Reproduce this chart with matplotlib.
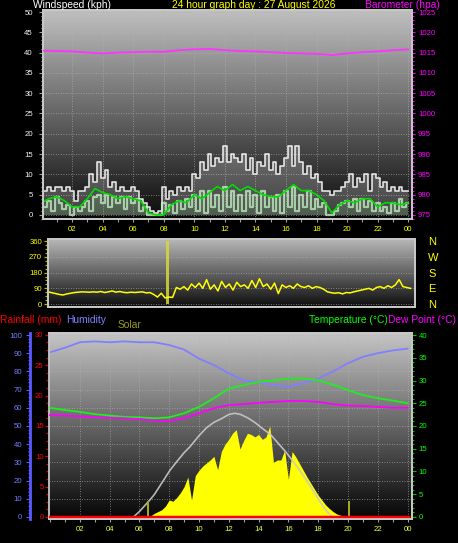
import numpy as np
import matplotlib
matplotlib.use('Agg')
import matplotlib.pyplot as plt
from matplotlib.ticker import MultipleLocator

plt.rcParams['font.family'] = ['Liberation Sans', 'DejaVu Sans']

# ---------------- data ----------------
t15 = np.arange(97) * 0.25          # quarter-hour sample times
t30 = np.arange(49) * 0.5           # half-hour sample times
t_hour = np.arange(25)              # hourly sample times

hour_ticks = [2, 4, 6, 8, 10, 12, 14, 16, 18, 20, 22, 24]
hour_labels = ['02', '04', '06', '08', '10', '12', '14', '16', '18', '20', '22', '00']

wind_gust = [5.8, 5.8, 7, 5.8, 7, 7, 5.8, 7, 5.8, 3.5, 5.8, 5.8, 7, 10, 8, 13,
             9, 11, 7, 8, 5.8, 7, 5.8, 5.8, 7, 5.8, 4, 3, 2, 1, 0.5, 1,
             7, 4, 6, 5, 7, 5.8, 7, 6, 10, 9, 13, 11, 15, 12, 14, 13,
             17, 13, 15, 14, 13, 15, 11, 14, 10, 13, 12, 15, 11, 13, 10, 12,
             14, 17, 12, 17, 13, 10, 12, 9, 10, 8, 6, 5.8, 5, 5.8, 6, 7,
             8, 10, 7, 9, 8, 10, 6, 10, 9, 7, 8, 6, 7, 5.8, 7, 5.8, 6]
wind_speed = [3, 2, 3.5, 1, 4.5, 3, 1.5, 2.5, 0, 2, 1, 2, 3.5, 1, 4.5, 5,
              3, 5, 2, 4.5, 3, 4.5, 1.5, 4.5, 3, 4, 1, 2, 0, 0, 0, 0,
              3, 1, 2.5, 0.5, 3.5, 1.5, 4, 2, 5, 1, 6, 0.5, 6, 2, 5, 1,
              7, 2, 6, 1, 5, 1, 6, 2, 5, 0.5, 6, 2, 4.5, 1, 5, 0.5,
              6, 2, 7, 1, 5, 2, 6, 1.5, 4, 2, 3, 0, 0, 1, 2.5, 3,
              3.5, 2, 4, 1, 4, 2, 3.5, 1, 3, 1, 2, 0.5, 3, 1, 4, 2, 3]
wind_avg = [3, 4, 4.5, 3.5, 2, 2, 4, 6.5, 5.5, 5, 4, 4.5, 4, 3.5, 0.5, 0, 0,
            2.5, 3.5, 3, 5, 4, 5.5, 7, 6, 7.5, 6, 7, 6, 5, 4.5, 4.5, 6, 7.5,
            6, 6, 5, 3.5, 0.5, 2.5, 3.5, 3, 4, 4, 2, 3, 3, 2.5, 3]
barometer = [1015.5, 1015.4, 1015.3, 1015.0, 1014.8, 1015.0, 1015.1, 1015.2,
             1015.2, 1015.6, 1015.8, 1015.9, 1015.6, 1015.4, 1015.3, 1015.1,
             1014.9, 1014.8, 1014.7, 1014.4, 1014.8, 1015.1, 1015.3, 1015.6,
             1015.8]

wind_dir = [70, 65, 60, 55, 52, 58, 62, 66, 68, 70, 69, 68, 70, 68, 72, 66,
            70, 75, 68, 72, 67, 65, 68, 66, 68, 70, 64, 66, 55, 40, 62, 35,
            40, 38, 95, 85, 100, 80, 115, 95, 120, 90, 140, 85, 110, 75, 130, 95,
            115, 80, 125, 100, 110, 90, 135, 95, 145, 100, 115, 85, 120, 60, 110, 95,
            105, 90, 115, 100, 95, 105, 90, 100, 95, 85, 70, 65, 62, 65, 58, 66,
            64, 70, 75, 80, 85, 90, 80, 95, 100, 90, 105, 95, 110, 140, 100, 95, 90]
dir_spike_hour = [7.9]
dir_spike_value = [360]

humidity = [90.5, 93, 96, 96.5, 96, 96.5, 96, 96, 94.5, 92, 87, 83.5, 79, 75,
            74, 72.5, 71.5, 73.5, 76, 80, 84.5, 88, 90, 91.5, 92.5]
temperature = [24.0, 23.5, 23.1, 22.6, 22.3, 22.0, 21.9, 21.7, 21.9, 22.8, 24.2,
               26.1, 28.2, 29.0, 29.7, 30.0, 30.4, 30.5, 30.0, 29.1, 27.9, 26.8,
               26.1, 25.6, 25.0]
dew_point = [22.4, 22.3, 22.1, 21.9, 21.8, 21.7, 21.5, 21.2, 21.1, 21.7, 22.8,
             23.9, 24.6, 24.8, 25.1, 25.3, 25.5, 25.5, 25.3, 24.8, 24.5, 24.4,
             24.2, 24.0, 24.0]
rainfall = [0.0, 0.0, 0.0, 0.0, 0.0, 0.0, 0.0, 0.0, 0.0, 0.0, 0.0, 0.0, 0.0,
            0.0, 0.0, 0.0, 0.0, 0.0, 0.0, 0.0, 0.0, 0.0, 0.0, 0.0, 0.0]
solar = [0, 0, 0, 0, 0, 0, 0, 0, 0, 0, 0, 0, 0, 0, 0, 0,
         0, 0, 0, 0, 0, 0, 0, 0, 0, 0, 0, 10, 30, 45, 60, 90,
         140, 130, 160, 200, 250, 330, 140, 340, 385, 420, 445, 470, 500, 390, 540, 600,
         640, 690, 720, 560, 630, 690, 680, 660, 680, 640, 660, 750, 450, 470, 470, 550,
         310, 540, 495, 440, 385, 330, 280, 230, 180, 140, 100, 70, 45, 25, 15, 5,
         0, 0, 0, 0, 0, 0, 0, 0, 0, 0, 0, 0, 0, 0, 0, 0, 0]
solar_max_hours = [5.6, 6.0, 6.7, 7.0, 7.5, 8.05, 8.5, 9.0, 9.4, 10.0, 10.5, 11.0,
                   11.5, 12.0, 12.4, 12.8, 13.3, 13.8, 14.2, 14.8, 15.3, 15.8,
                   16.4, 16.9, 17.5, 18.0, 18.4, 18.7, 19.0]
solar_max = [0, 45, 140, 185, 280, 385, 455, 530, 580, 670, 735, 780, 810, 845,
             855, 845, 815, 775, 735, 680, 610, 540, 445, 360, 250, 150, 75, 30, 0]
sun_event_hours = [6.6, 20.1]
sun_event_height = [135, 135]

# ---------------- layout helpers ----------------
W, H = 458, 543
fig = plt.figure(figsize=(W / 100, H / 100), dpi=100, facecolor='black')
PT = 0.72  # points per pixel


def rect(x0, y0, x1, y1):
    return [x0 / W, 1 - y1 / H, (x1 - x0) / W, (y1 - y0) / H]


def bg(ax, top, bottom):
    grad = np.linspace(top, bottom, 256).reshape(-1, 1)
    ax.imshow(grad, cmap='gray', vmin=0, vmax=1, aspect='auto',
              extent=(0, 1, 0, 1), transform=ax.transAxes, zorder=0,
              interpolation='bilinear')


def frame(ax):
    ax.set_facecolor('none')
    for s in ax.spines.values():
        s.set_color('#c8c8c8')
        s.set_linewidth(1.3)


GRID = dict(color='#b4b4b4', lw=0.6, ls=(0, (1, 2)), alpha=0.8)
TICKFS = 5.6

# ---------------- panel 1: wind + barometer ----------------
ax1 = fig.add_axes(rect(43, 10, 412, 219))
frame(ax1)
bg(ax1, 0.75, 0.04)
ax1.fill_between(t15, wind_speed, wind_gust, step='mid', color='white', alpha=0.22, lw=0, zorder=1.5)
ax1.step(t15, wind_gust, where='mid', color='white', lw=1.2, alpha=0.85, zorder=2)
ax1.fill_between(t15, 0, wind_speed, step='mid', color='#c8f5c8', alpha=0.35, lw=0, zorder=2.5)
ax1.step(t15, wind_speed, where='mid', color='#c8f5c8', lw=1.6, alpha=0.75, zorder=3)
ax1.plot(t30, wind_avg, color='#00dd00', lw=1.2, zorder=4)
ax1.set_xlim(0.1, 24.25)
ax1.set_ylim(-1, 50.5)
ax1.set_yticks(np.arange(0, 51, 5))
ax1.yaxis.set_minor_locator(MultipleLocator(1))
ax1.tick_params(axis='y', which='both', direction='out', colors='#a0a0a0',
                labelcolor='#eef2ff', labelsize=TICKFS, length=4 * PT, width=0.8, pad=6 * PT)
ax1.tick_params(axis='y', which='minor', length=2.5 * PT)
ax1.set_xticks(hour_ticks)
ax1.set_xticklabels(hour_labels)
ax1.xaxis.set_minor_locator(MultipleLocator(1))
ax1.tick_params(axis='x', which='both', direction='out', colors='#a0a0a0',
                labelcolor='#ffff00', labelsize=TICKFS, length=3 * PT, width=0.8, pad=4 * PT)
ax1.set_axisbelow(True)
ax1.grid(True, which='major', **GRID)

ax1b = ax1.twinx()
frame(ax1b)
ax1b.plot(t_hour, barometer, color='#ff33ff', lw=1.3, zorder=5)
ax1b.set_ylim(974, 1025.5)
ax1b.set_yticks(np.arange(975, 1026, 5))
ax1b.yaxis.set_minor_locator(MultipleLocator(1))
ax1b.tick_params(axis='y', which='both', direction='out', colors='#ff00ff',
                 labelcolor='#ff00ff', labelsize=TICKFS, length=3 * PT, width=0.8, pad=3 * PT)
ax1b.tick_params(axis='y', which='minor', length=2 * PT)

# ---------------- panel 2: wind direction ----------------
ax2 = fig.add_axes(rect(48, 239, 415, 307))
frame(ax2)
bg(ax2, 0.72, 0.05)
ax2.bar(dir_spike_hour, dir_spike_value, width=0.22, color='#d8d838', alpha=0.85, zorder=2)
ax2.plot(t15, wind_dir, color='#ffff00', lw=1.1, zorder=3)
ax2.set_xlim(0.0, 24.3)
ax2.set_ylim(-17, 373)
ax2.set_yticks([0, 90, 180, 270, 360])
ax2.yaxis.set_minor_locator(MultipleLocator(22.5))
ax2.tick_params(axis='y', which='both', direction='out', colors='#b8b800',
                labelcolor='#ffff00', labelsize=TICKFS, length=4 * PT, width=0.9, pad=2 * PT)
ax2.tick_params(axis='y', which='minor', length=3 * PT)
ax2.set_xticks([])
ax2.set_axisbelow(True)
ax2.grid(True, axis='y', which='major', **GRID)

ax2r = ax2.twinx()
frame(ax2r)
ax2r.set_ylim(-17, 373)
ax2r.set_yticks([0, 90, 180, 270, 360])
ax2r.set_yticklabels(['N', 'E', 'S', 'W', 'N'])
ax2r.tick_params(axis='y', length=0, labelcolor='#ffff00', labelsize=8, pad=13 * PT)

# ---------------- panel 3: humidity / solar / rain / temperature ----------------
ax3 = fig.add_axes(rect(49, 333, 412, 519))
frame(ax3)
bg(ax3, 0.77, 0.02)
ax3.plot(t_hour, humidity, color='#8080ff', lw=1.3, zorder=3)
ax3.set_xlim(-0.07, 24.3)
ax3.set_ylim(-1.1, 101.1)
ax3.set_yticks(np.arange(0, 101, 10))
ax3.yaxis.set_minor_locator(MultipleLocator(2))
ax3.spines['left'].set_position(('outward', 19 * PT))
ax3.spines['left'].set_color('#5a5aff')
ax3.spines['left'].set_linewidth(2)
ax3.tick_params(axis='y', which='both', direction='out', colors='#5a5aff',
                labelcolor='#6f7fff', labelsize=TICKFS, length=4 * PT, width=0.8, pad=4 * PT)
ax3.tick_params(axis='y', which='minor', length=2.5 * PT)
ax3.set_xticks(hour_ticks)
ax3.set_xticklabels(hour_labels)
ax3.xaxis.set_minor_locator(MultipleLocator(1))
ax3.tick_params(axis='x', which='both', direction='out', colors='#a0a0a0',
                labelcolor='#f0ff30', labelsize=TICKFS, length=3 * PT, width=0.8, pad=4 * PT)
ax3.set_axisbelow(True)
ax3.grid(True, which='major', **GRID)

ax3s = ax3.twinx()
ax3s.set_axis_off()
ax3s.fill_between(t15, solar, color='#ffff00', lw=0, zorder=2)
ax3s.plot(solar_max_hours, solar_max, color='#c8c8c8', lw=1.2, alpha=0.9, zorder=3)
ax3s.bar(sun_event_hours, sun_event_height, width=0.13, color='#a8a820', zorder=4)
ax3s.set_ylim(-1.1 * 15, 101.1 * 15)

ax3r = ax3.twinx()
frame(ax3r)
ax3r.yaxis.tick_left()
ax3r.spines['right'].set_visible(False)
ax3r.plot(t_hour, rainfall, color='#ff0000', lw=2.5, zorder=5)
ax3r.set_ylim(-0.33, 30.3)
ax3r.set_yticks(np.arange(0, 31, 5))
ax3r.yaxis.set_minor_locator(MultipleLocator(1.25))
ax3r.tick_params(axis='y', which='both', direction='out', colors='#e00000',
                 labelcolor='#ff0000', labelsize=TICKFS, length=4 * PT, width=0.9, pad=1.5 * PT)
ax3r.tick_params(axis='y', which='minor', length=3 * PT)

ax3t = ax3.twinx()
frame(ax3t)
ax3t.spines['left'].set_visible(False)
ax3t.plot(t_hour, temperature, color='#20ee20', lw=1.3, zorder=5)
ax3t.plot(t_hour, dew_point, color='#ff00ff', lw=1.3, zorder=5)
ax3t.set_ylim(-0.44, 40.44)
ax3t.set_yticks(np.arange(0, 41, 5))
ax3t.yaxis.set_minor_locator(MultipleLocator(1))
ax3t.tick_params(axis='y', which='both', direction='out', colors='#00c000',
                 labelcolor='#00ff00', labelsize=TICKFS, length=3.5 * PT, width=0.8, pad=3 * PT)
ax3t.tick_params(axis='y', which='minor', length=2 * PT)

# ---------------- texts ----------------
def ftext(x, y, s, color, ha='left', size=7.4):
    fig.text(x / W, 1 - y / H, s, color=color, ha=ha, va='center', fontsize=size)

ftext(33, 5, 'Windspeed (kph)', 'white')
ftext(254, 5, '24 hour graph day : 27 August 2026', '#ffff00', ha='center')
ftext(440, 5, 'Barometer (hpa)', '#ff00ff', ha='right')
ftext(0, 320, 'Rainfall (mm)', '#ff0000')
ftext(66, 320, 'Humidity', '#8080ff')
ftext(118, 325, 'Solar', '#9a9a20')
ftext(388, 320, 'Temperature (°C)', '#00ff00', ha='right')
ftext(388, 320, 'Dew Point (°C)', '#ff00ff')

fig.savefig('out.png', dpi=100, facecolor='black')
